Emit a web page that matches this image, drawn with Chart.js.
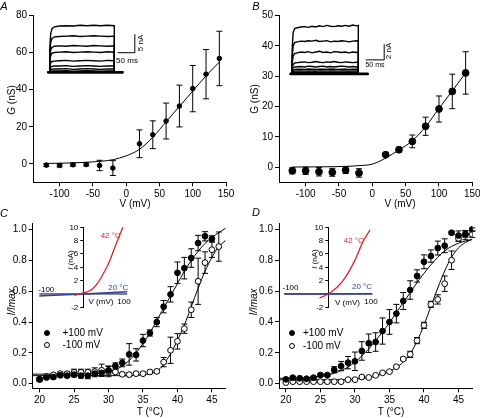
<!DOCTYPE html>
<html>
<head>
<meta charset="utf-8">
<script src="https://cdn.jsdelivr.net/npm/chart.js@4.4.1/dist/chart.umd.min.js"></script>
<style>
  body { margin: 0; width: 480px; height: 418px; overflow: hidden; position: relative; background: #fff;
         font-family: Arial, "Liberation Sans", sans-serif; color: #000; }
  canvas { position: absolute; }
  .t { position: absolute; white-space: nowrap; font-size: 10px; line-height: 1; transform: translate(-50%, -50%); }
  .rot { transform: translate(-50%, -50%) rotate(-90deg); }
  .lt { position: absolute; font-size: 11px; font-style: italic; line-height: 1; transform: translate(-50%, -50%); }
  .sm { font-size: 8px; }
  .dot { position: absolute; width: 6px; height: 6px; border-radius: 50%; border: 1px solid #000; box-sizing: border-box; transform: translate(-50%, -50%); }
</style>
</head>
<body>
<canvas id="cA" width="240" height="210" style="left:0;top:0"></canvas>
<canvas id="cB" width="250" height="210" style="left:240px;top:0"></canvas>
<canvas id="cC" width="240" height="218" style="left:0;top:200px"></canvas>
<canvas id="cD" width="250" height="218" style="left:240px;top:200px"></canvas>
<canvas id="iA" width="110" height="62" style="left:40px;top:18px"></canvas>
<canvas id="iB" width="110" height="62" style="left:285px;top:18px"></canvas>
<canvas id="ivC" width="125" height="100" style="left:20px;top:215px"></canvas>
<canvas id="ivD" width="125" height="100" style="left:265px;top:215px"></canvas>

<!-- panel letters -->
<div class="lt" style="left:4px;top:6px">A</div>
<div class="lt" style="left:256px;top:6px">B</div>
<div class="lt" style="left:4px;top:213px">C</div>
<div class="lt" style="left:256px;top:212px">D</div>

<!-- axis titles -->
<div class="t rot" style="left:11.5px;top:100px"><i>G</i> (nS)</div>
<div class="t rot" style="left:255px;top:99px">G (nS)</div>
<div class="t" style="left:135px;top:203.5px">V (mV)</div>
<div class="t" style="left:400px;top:203.5px">V (mV)</div>
<div class="t rot" style="left:12px;top:302px"><i>I/Imax</i></div>
<div class="t rot" style="left:253.5px;top:302px"><i>I/Imax</i></div>
<div class="t" style="left:150px;top:411.5px">T (°C)</div>
<div class="t" style="left:391px;top:411.5px">T (°C)</div>

<!-- trace inset labels -->
<div class="t rot sm" style="left:141px;top:43px">5 nA</div>
<div class="t sm" style="left:127px;top:61px">50 ms</div>
<div class="t rot sm" style="left:389px;top:51px">2 nA</div>
<div class="t" style="left:375px;top:64px;font-size:7px">50 ms</div>

<!-- I-V inset labels -->
<div class="t rot sm" style="left:70.7px;top:260px"><i>I</i> (nA)</div>
<div class="t sm" style="left:101px;top:302.3px">V (mV)</div>
<div class="t sm" style="left:124px;top:302px">100</div>
<div class="t sm" style="left:46.3px;top:290px">-100</div>
<div class="t sm" style="left:110.7px;top:236px;color:#d7262b">42 °C</div>
<div class="t sm" style="left:118.3px;top:288.3px;color:#2e3f9e">20 °C</div>

<div class="t rot sm" style="left:315px;top:259px"><i>I</i> (nA)</div>
<div class="t sm" style="left:347.5px;top:302.7px">V (mV)</div>
<div class="t sm" style="left:371px;top:302px">100</div>
<div class="t sm" style="left:290.5px;top:288.3px">-100</div>
<div class="t sm" style="left:353.8px;top:240.7px;color:#d7262b">42 °C</div>
<div class="t sm" style="left:362px;top:286.7px;color:#2e3f9e">20 °C</div>

<!-- legends -->
<div class="dot" style="left:46.7px;top:332.7px;background:#000"></div>
<div class="t" style="left:62.5px;top:332.7px;transform:translate(0,-50%)">+100 mV</div>
<div class="dot" style="left:46.7px;top:345.3px;background:#fff"></div>
<div class="t" style="left:62.5px;top:345.3px;transform:translate(0,-50%)">-100 mV</div>
<div class="dot" style="left:292.3px;top:333.3px;background:#000"></div>
<div class="t" style="left:303px;top:333.3px;transform:translate(0,-50%)">+100 mV</div>
<div class="dot" style="left:292.3px;top:345.7px;background:#fff"></div>
<div class="t" style="left:303px;top:345.7px;transform:translate(0,-50%)">-100 mV</div>

<script>
// ---- A / B : conductance vs voltage ----
const voltages = [-120, -100, -80, -60, -40, -20, 20, 40, 60, 80, 100, 120, 140];
const gA = [-0.7, -0.9, -0.5, -0.4, -0.9, -2.3, 10.8, 15.7, 23.1, 31.2, 40.6, 48.4, 56.9];
const errA = [0.8, 0.8, 0.8, 0.8, 2.8, 4.0, 7.5, 7.5, 9.7, 11.3, 12.5, 13.3, 14.7];
const gB = [-1.2, -1.2, -1.5, -1.7, -1.0, -1.9, 4.1, 5.75, 8.5, 13.5, 19.2, 25.0, 31.1];
const errB = [1.0, 1.2, 1.4, 1.3, 1.1, 1.4, 0.3, 0.8, 2.1, 3.0, 4.3, 5.7, 7.0];
const fitV = [-120, -100, -80, -60, -40, -20, 0, 20, 40, 60, 80, 100, 120, 140];
const fitA = [0.2, 0.3, 0.5, 0.8, 1.3, 2.2, 4.3, 7.8, 14.4, 22.7, 31, 39.3, 47.5, 55];
const fitB = [0.05, 0.07, 0.1, 0.15, 0.25, 0.5, 1.0, 3.0, 5.7, 8.7, 13.4, 19.4, 25.2, 31.1];
const vTicks = [-100, -50, 0, 50, 100, 150];
const gTicksA = [0, 20, 40, 60, 80];
const gTicksB = [0, 10, 20, 30, 40, 50];

// ---- C / D : normalised current vs temperature ----
const tempC = [20, 21, 22, 23, 24, 25, 26, 27, 28, 29, 30, 31, 32, 33, 34, 35, 36, 37, 38, 39, 40, 41, 42, 43, 44, 45, 46];
const posC = [0.03, 0.04, 0.043, 0.054, 0.052, 0.059, 0.052, 0.052, 0.065, 0.07, 0.087, 0.115, 0.135, 0.19, 0.187, 0.28, 0.329, 0.40, 0.50, 0.58, 0.72, 0.75, 0.816, 0.913, 0.957, 0.94];
const posErrC = [0.01, 0.01, 0.01, 0.01, 0.01, 0.015, 0.015, 0.02, 0.02, 0.02, 0.025, 0.02, 0.025, 0.07, 0.04, 0.04, 0.02, 0.03, 0.04, 0.05, 0.07, 0.07, 0.06, 0.05, 0.03, 0.02];
const negC = [0.026, 0.048, 0.057, 0.065, 0.065, 0.074, 0.074, 0.074, 0.078, 0.087, 0.08, 0.076, 0.061, 0.059, 0.065, 0.065, 0.076, 0.08, 0.14, 0.217, 0.275, 0.357, 0.48, 0.665, 0.786, 0.87, 0.89];
const negErrC = [0.01, 0.01, 0.01, 0.01, 0.01, 0.02, 0.02, 0.02, 0.025, 0.04, 0.035, 0.01, 0.01, 0.01, 0.01, 0.01, 0.01, 0.01, 0.03, 0.085, 0.05, 0.03, 0.05, 0.15, 0.07, 0.05, 0.095];
const fitPosCT = [19, 20, 22, 24, 26, 28, 29, 30, 31, 32, 33, 34, 35, 36, 37, 38, 39, 40, 41, 42, 43, 44, 45, 46, 47];
const fitPosC = [0.062, 0.062, 0.062, 0.063, 0.064, 0.066, 0.069, 0.076, 0.09, 0.115, 0.15, 0.2, 0.26, 0.33, 0.41, 0.49, 0.57, 0.65, 0.73, 0.8, 0.86, 0.91, 0.95, 0.98, 1.01];
const fitNegCT = [19, 30, 34, 35, 36, 37, 38, 39, 40, 41, 42, 43, 44, 45, 46, 47];
const fitNegC = [0.052, 0.052, 0.054, 0.057, 0.064, 0.08, 0.125, 0.195, 0.28, 0.38, 0.5, 0.62, 0.73, 0.82, 0.89, 0.93];

const tempD = [20, 21, 22, 23, 24, 25, 26, 27, 28, 29, 30, 31, 32, 33, 34, 35, 36, 37, 38, 39, 40, 41, 42, 43, 44, 45, 46, 47];
const posD = [0.028, 0.039, 0.035, 0.032, 0.039, 0.056, 0.056, 0.09, 0.114, 0.136, 0.145, 0.212, 0.262, 0.27, 0.341, 0.40, 0.454, 0.536, 0.607, 0.698, 0.79, 0.827, 0.879, 0.894, 0.978, 0.96, 0.97, 1.0];
const posErrD = [0.005, 0.005, 0.005, 0.005, 0.005, 0.01, 0.01, 0.02, 0.03, 0.04, 0.06, 0.06, 0.06, 0.06, 0.085, 0.08, 0.06, 0.055, 0.06, 0.04, 0.045, 0.04, 0.045, 0.045, 0.01, 0.03, 0.02, 0.01];
const negD = [0.007, 0.013, 0.013, 0.013, 0.013, 0.013, 0.013, 0.013, 0.013, 0.026, 0.026, 0.043, 0.04, 0.054, 0.07, 0.078, 0.11, 0.16, 0.19, 0.279, 0.378, 0.514, 0.546, 0.648, 0.80, 0.942, 0.963, 0.968];
const negErrD = [0.005, 0.005, 0.005, 0.005, 0.005, 0.005, 0.005, 0.005, 0.005, 0.005, 0.005, 0.005, 0.005, 0.005, 0.005, 0.005, 0.005, 0.01, 0.02, 0.02, 0.02, 0.02, 0.03, 0.05, 0.06, 0.02, 0.03, 0.02];
const fitPosDT = [19, 20, 22, 24, 25, 26, 27, 28, 29, 30, 31, 32, 33, 34, 35, 36, 37, 38, 39, 40, 41, 42, 43, 44, 45, 46, 47];
const fitPosD = [0.035, 0.035, 0.037, 0.042, 0.047, 0.055, 0.068, 0.085, 0.108, 0.14, 0.18, 0.225, 0.28, 0.335, 0.395, 0.46, 0.525, 0.59, 0.655, 0.715, 0.77, 0.82, 0.86, 0.89, 0.91, 0.925, 0.935];
const fitNegDT = [19, 28, 30, 32, 33, 34, 35, 36, 37, 38, 39, 40, 41, 42, 43, 44, 45, 46, 47];
const fitNegD = [0.025, 0.026, 0.03, 0.04, 0.05, 0.063, 0.08, 0.105, 0.14, 0.195, 0.275, 0.38, 0.5, 0.62, 0.73, 0.82, 0.88, 0.915, 0.935];
const tTicks = [20, 25, 30, 35, 40, 45];
const iTicks = [0, 0.2, 0.4, 0.6, 0.8, 1.0];

// ---- current trace insets (ms, nA) ----
const timeA = [-5, 0, 1.5, 4, 8, 15, 30, 50, 70, 90, 110, 130, 150, 170, 190, 190, 216];
const tracesA = [
  [0, 0, 6.5, 10.3, 11.7, 12.2, 12.4, 12.5, 12.4, 12.6, 12.5, 12.6, 12.5, 12.6, 12.5, 0, 0],
  [0, 0, 5.1, 8.0, 9.1, 9.5, 9.6, 9.7, 9.8, 9.6, 9.7, 9.8, 9.7, 9.6, 9.7, 0, 0],
  [0, 0, 3.7, 5.9, 6.7, 7.0, 7.1, 7.0, 7.2, 7.1, 7.0, 7.2, 7.1, 7.0, 7.1, 0, 0],
  [0, 0, 2.8, 4.5, 5.1, 5.3, 5.4, 5.5, 5.3, 5.4, 5.5, 5.4, 5.3, 5.5, 5.4, 0, 0],
  [0, 0, 1.6, 2.6, 2.9, 3.0, 3.1, 3.2, 3.0, 3.1, 3.2, 3.1, 3.0, 3.2, 3.1, 0, 0],
  [0, 0, 0.9, 1.4, 1.6, 1.7, 1.7, 1.8, 1.6, 1.7, 1.8, 1.7, 1.6, 1.7, 1.7, 0, 0],
  [0, 0, 0.5, 0.7, 0.85, 0.9, 0.9, 1.0, 0.8, 0.9, 1.0, 0.9, 0.8, 0.9, 0.9, 0, 0],
  [0, 0, 0.2, 0.3, 0.35, 0.35, 0.35, 0.4, 0.3, 0.35, 0.4, 0.35, 0.3, 0.35, 0.35, 0, 0],
  [0, 0, 0, 0, 0, 0, 0, 0, 0, 0, 0, 0, 0, 0, 0, 0, 0]
];
const barTimeA = [200, 250, 250];
const barCurA = [5.25, 5.25, 10.25];

const timeB = [-5, 0, 1.5, 4, 8, 15, 25, 35, 45, 55, 65, 75, 85, 95, 105, 115, 125, 135, 145, 155, 165, 175, 180, 180, 207];
const tracesB = [
  [0, 0, 3.4, 5.3, 5.8, 5.9, 6.0, 6.05, 5.95, 6.1, 6.0, 6.15, 6.05, 6.2, 6.1, 6.05, 6.15, 6.1, 6.2, 6.1, 6.25, 6.15, 6.2, 0, 0],
  [0, 0, 2.2, 3.6, 4.0, 4.1, 4.2, 4.15, 4.25, 4.2, 4.3, 4.15, 4.2, 4.25, 4.1, 4.2, 4.15, 4.25, 4.2, 4.1, 4.2, 4.25, 4.2, 0, 0],
  [0, 0, 1.4, 2.3, 2.6, 2.7, 2.8, 2.75, 2.85, 2.7, 2.8, 2.9, 2.75, 2.8, 2.7, 2.85, 2.8, 2.75, 2.8, 2.7, 2.8, 2.75, 2.8, 0, 0],
  [0, 0, 0.8, 1.2, 1.4, 1.45, 1.5, 1.55, 1.45, 1.5, 1.6, 1.5, 1.45, 1.55, 1.5, 1.6, 1.5, 1.45, 1.55, 1.5, 1.45, 1.5, 1.5, 0, 0],
  [0, 0, 0.5, 0.8, 0.9, 0.92, 0.95, 0.9, 1.0, 0.95, 0.9, 0.95, 1.0, 0.9, 0.95, 0.9, 0.95, 1.0, 0.95, 0.9, 0.95, 0.9, 0.94, 0, 0],
  [0, 0, 0.3, 0.5, 0.58, 0.6, 0.62, 0.58, 0.63, 0.6, 0.57, 0.62, 0.6, 0.58, 0.63, 0.6, 0.58, 0.62, 0.6, 0.57, 0.61, 0.6, 0.6, 0, 0],
  [0, 0, 0.2, 0.32, 0.36, 0.38, 0.4, 0.36, 0.4, 0.38, 0.35, 0.4, 0.38, 0.36, 0.4, 0.38, 0.36, 0.4, 0.38, 0.35, 0.39, 0.38, 0.38, 0, 0],
  [0, 0, 0.1, 0.16, 0.19, 0.2, 0.21, 0.18, 0.22, 0.2, 0.18, 0.21, 0.2, 0.19, 0.22, 0.2, 0.18, 0.21, 0.2, 0.18, 0.2, 0.2, 0.2, 0, 0],
  [0, 0, 0, 0, 0, 0, 0, 0, 0, 0, 0, 0, 0, 0, 0, 0, 0, 0, 0, 0, 0, 0, 0, 0, 0]
];
const barTimeB = [200, 250, 250];
const barCurB = [1.8, 1.8, 3.8];

// ---- I-V insets (mV, nA) ----
const ivHotVC = [-100, -80, -60, -40, -20, 0, 10, 20, 30, 40, 50, 60, 70, 80, 90];
const ivHotIC = [-0.7, -0.7, -0.65, -0.45, -0.2, 0.15, 0.35, 0.7, 1.4, 2.4, 3.6, 5.0, 6.7, 8.4, 10];
const ivColdVC = [-100, 0, 100];
const ivColdIC = [-0.3, 0, 0.35];
const ivHotVD = [-100, -80, -60, -40, -20, 0, 20, 40, 60, 80, 95];
const ivHotID = [-1.4, -1.45, -1.35, -1.1, -0.6, 0, 1.0, 2.6, 5.0, 8.0, 9.6];
const ivColdVD = [-100, 0, 100];
const ivColdID = [0, 0, 0.05];
const ivAxisV = [-100, 100];
const ivTicks = [-2, 0, 2, 4, 6, 8, 10];

Chart.defaults.font.family = 'Arial, "Liberation Sans", sans-serif';
Chart.defaults.color = '#000';

const pts = (xs, ys) => xs.map((x, i) => ({ x, y: ys[i] }));

const errorBars = {
  id: 'errorBars',
  beforeDatasetsDraw(chart) {
    const { ctx, scales: { x, y } } = chart;
    ctx.save();
    ctx.strokeStyle = '#000';
    ctx.lineWidth = 1;
    chart.data.datasets.forEach(ds => {
      if (!ds.errors) return;
      const w = ds.capWidth || 3;
      ds.data.forEach((p, i) => {
        const e = ds.errors[i];
        if (!e) return;
        const px = x.getPixelForValue(p.x);
        const top = y.getPixelForValue(p.y + e), bot = y.getPixelForValue(p.y - e);
        ctx.beginPath();
        ctx.moveTo(px, top); ctx.lineTo(px, bot);
        ctx.moveTo(px - w, top); ctx.lineTo(px + w, top);
        ctx.moveTo(px - w, bot); ctx.lineTo(px + w, bot);
        ctx.stroke();
      });
    });
    ctx.restore();
  }
};

function axis(r, fit) {
  return {
    min: r.min, max: r.max,
    afterBuildTicks: s => { s.ticks = r.ticks.map(v => ({ value: v })); },
    afterFit: fit,
    grid: { drawOnChartArea: false, color: '#000', tickLength: 4, lineWidth: 1 },
    border: { color: '#000', width: 1 },
    ticks: { color: '#000', padding: 2, autoSkip: false, maxRotation: 0, font: { size: 10 }, callback: r.fmt || (v => v) }
  };
}

function markers(xs, ys, errs, filled, r) {
  return {
    data: pts(xs, ys), errors: errs, capWidth: 3,
    pointRadius: r, pointHoverRadius: r,
    pointBackgroundColor: filled ? '#000' : '#fff', pointBorderColor: '#000', pointBorderWidth: 1
  };
}

function fitLine(xs, ys) {
  return { data: pts(xs, ys), showLine: true, pointRadius: 0, borderColor: '#000', borderWidth: 1, cubicInterpolationMode: 'monotone' };
}

function mainChart(id, g, xr, yr, datasets) {
  return new Chart(document.getElementById(id), {
    type: 'scatter',
    data: { datasets },
    options: {
      responsive: false, animation: false, devicePixelRatio: 1, events: [],
      layout: { padding: { left: 0, top: g.top, right: g.w - g.right, bottom: 0 } },
      plugins: { legend: { display: false }, tooltip: { enabled: false } },
      scales: {
        x: axis(xr, s => { s.height = g.h - g.bottom; }),
        y: axis(yr, s => { s.width = g.left; })
      }
    },
    plugins: [errorBars]
  });
}

function traceChart(id, t, traces, barT, barI, xr, yr) {
  const datasets = traces.map((tr, i) => ({
    data: pts(t, tr), showLine: true, pointRadius: 0, borderColor: '#000',
    borderWidth: i === traces.length - 1 ? 2.8 : 1.4
  }));
  datasets.push({ data: pts(barT, barI), showLine: true, pointRadius: 0, borderColor: '#000', borderWidth: 1 });
  return new Chart(document.getElementById(id), {
    type: 'scatter',
    data: { datasets },
    options: {
      responsive: false, animation: false, devicePixelRatio: 1, events: [],
      layout: { padding: 0 },
      plugins: { legend: { display: false }, tooltip: { enabled: false } },
      scales: {
        x: { display: false, min: xr[0], max: xr[1] },
        y: { display: false, min: yr[0], max: yr[1] }
      }
    }
  });
}

function ivChart(id, hotV, hotI, coldV, coldI) {
  const line = (xs, ys, c, w) => ({ data: pts(xs, ys), showLine: true, pointRadius: 0, borderColor: c, borderWidth: w, clip: false, cubicInterpolationMode: 'monotone' });
  return new Chart(document.getElementById(id), {
    type: 'scatter',
    data: { datasets: [
      line(hotV, hotI, '#d7262b', 1.3),
      line(coldV, coldI, '#2e3f9e', 1.5),
      line(ivAxisV, [0, 0], '#000', 1)
    ] },
    options: {
      responsive: false, animation: false, devicePixelRatio: 1, events: [],
      layout: { padding: { left: 0, top: 12.3, right: 17.7, bottom: 7.7 } },
      plugins: { legend: { display: false }, tooltip: { enabled: false } },
      scales: {
        x: { display: false, min: 0, max: 100 },
        y: {
          min: -2, max: 10,
          afterBuildTicks: s => { s.ticks = ivTicks.map(v => ({ value: v })); },
          afterFit: s => { s.width = 63.3; },
          grid: { drawOnChartArea: false, color: '#000', tickLength: 3 },
          border: { color: '#000', width: 1 },
          ticks: { padding: 2, font: { size: 8 }, callback: v => v === 0 ? '' : v }
        }
      }
    }
  });
}

mainChart('cA', { w: 240, h: 210, left: 33, right: 226, top: 15.7, bottom: 182.3 },
  { min: -140, max: 150, ticks: vTicks }, { min: -10, max: 80, ticks: gTicksA },
  [markers(voltages, gA, errA, true, 2.3), fitLine(fitV, fitA)]);

mainChart('cB', { w: 250, h: 210, left: 39, right: 232.3, top: 15.7, bottom: 182.3 },
  { min: -140, max: 150, ticks: vTicks }, { min: -5, max: 50, ticks: gTicksB },
  [markers(voltages, gB, errB, true, 3.4), fitLine(fitV, fitB)]);

const fmt1 = v => v.toFixed(1);
mainChart('cC', { w: 240, h: 218, left: 32.7, right: 225.7, top: 23.5, bottom: 188.3 },
  { min: 19, max: 47, ticks: tTicks }, { min: -0.03, max: 1.04, ticks: iTicks, fmt: fmt1 },
  [markers(tempC, posC, posErrC, true, 2.9), markers(tempC, negC, negErrC, false, 2.9),
   fitLine(fitPosCT, fitPosC), fitLine(fitNegCT, fitNegC)]);

mainChart('cD', { w: 250, h: 218, left: 39, right: 232.3, top: 23.2, bottom: 188.3 },
  { min: 19, max: 47, ticks: tTicks }, { min: -0.03, max: 1.04, ticks: iTicks, fmt: fmt1 },
  [markers(tempD, posD, posErrD, true, 2.9), markers(tempD, negD, negErrD, false, 2.9),
   fitLine(fitPosDT, fitPosD), fitLine(fitNegDT, fitNegD)]);

traceChart('iA', timeA, tracesA, barTimeA, barCurA, [-27.2, 294.4], [-2.06, 14.56]);
traceChart('iB', timeB, tracesB, barTimeB, barCurB, [-18.1, 279.2], [-0.77, 7.15]);

ivChart('ivC', ivHotVC, ivHotIC, ivColdVC, ivColdIC);
ivChart('ivD', ivHotVD, ivHotID, ivColdVD, ivColdID);
</script>
</body>
</html>
